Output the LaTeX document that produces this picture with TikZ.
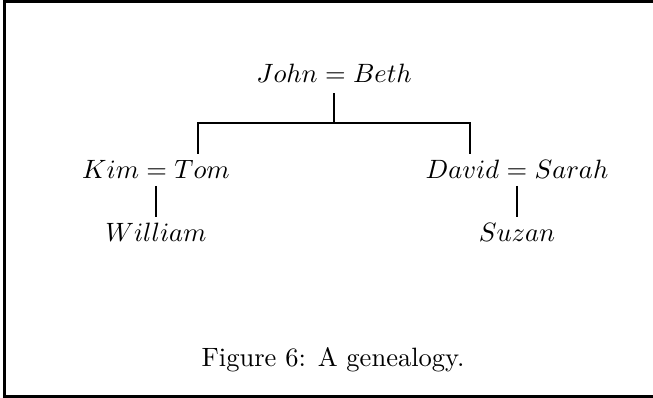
\documentclass[tikz,border=0pt]{standalone}
\usepackage{amsmath}
\usepackage{tikz}

\tikzset{
  person/.style={anchor=base, inner sep=2.4pt},
  famline/.style={line width=0.9pt},
}

\begin{document}
\begin{tikzpicture}[x=0.377pt, y=-0.377pt]
  \useasboundingbox (0,0) rectangle (653,398);

  % frame (open on the right)
  \draw[line width=1.2pt] (653,1.2) -- (4.6,1.2) -- (4.6,396.6) -- (653,396.6);

  % couples and children
  \node[person] (jb) at (334,83) {$John = Beth$};
  \node[person] (kt) at (156,179) {$Kim = Tom$};
  \node[person] (ds) at (517,179) {$David = Sarah$};
  \node[person] (wil) at (156,242) {$William$};
  \node[person] (suz) at (517,242) {$Suzan$};

  % bar over the children of John and Beth
  \coordinate (kidL) at (198,123);
  \coordinate (kidR) at (470,123);

  \draw[famline, shorten <=1.3pt] (jb.south) -- (jb.south |- kidL);
  \draw[famline] (kidL |- kt.north) -- (kidL) -- (kidR) -- (kidR |- ds.north);
  \draw[famline] (kt.south) -- (wil.north);
  \draw[famline] (ds.south) -- (suz.north);

  % caption
  \node[anchor=base] (cap) at (333,367) {Figure 6: A genealogy.};
\end{tikzpicture}
\end{document}
